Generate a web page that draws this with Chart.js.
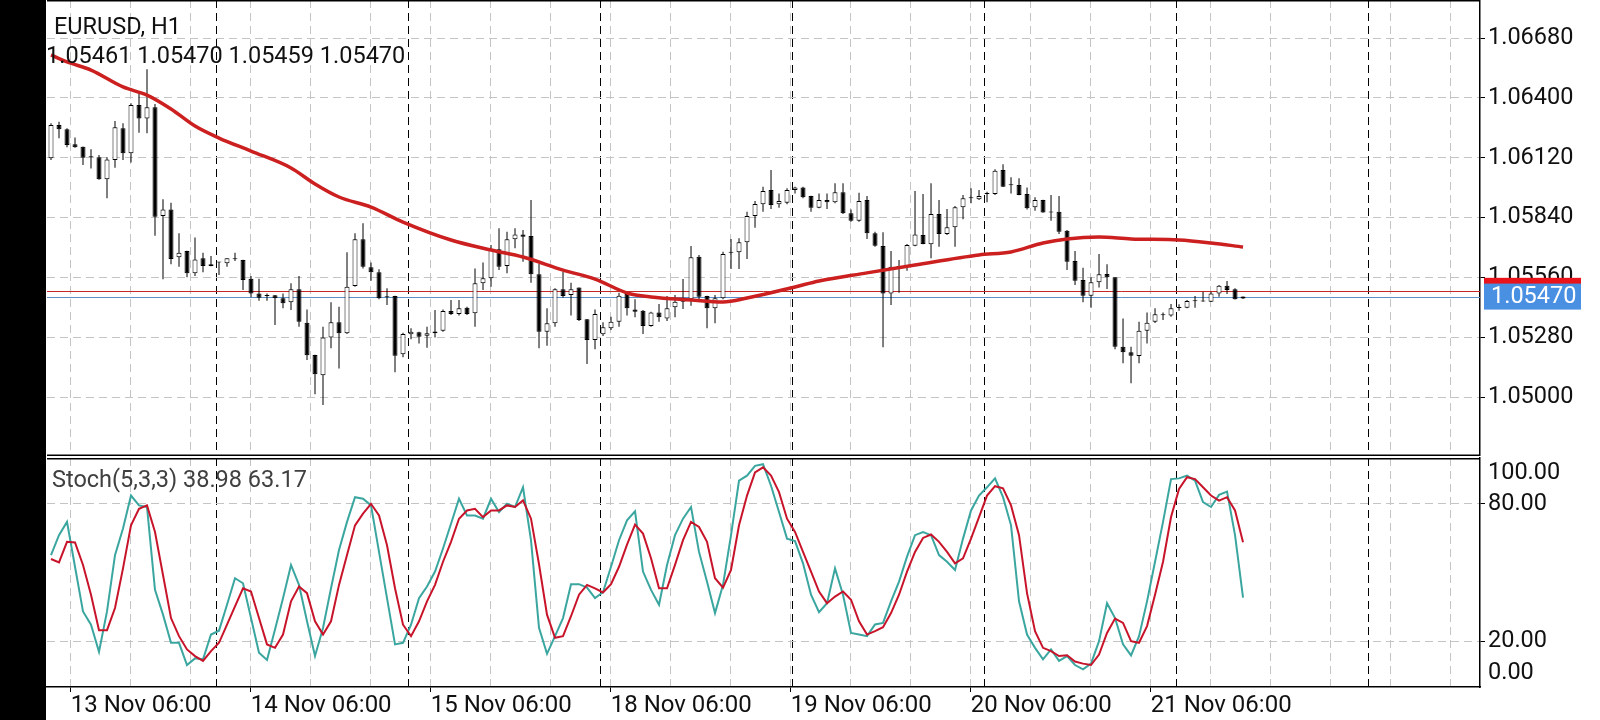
<!DOCTYPE html>
<html>
<head>
<meta charset="utf-8">
<title>EURUSD, H1</title>
<script src="https://cdn.jsdelivr.net/npm/chart.js@4.4.0/dist/chart.umd.min.js"></script>
<style>
  html, body { margin: 0; padding: 0; background: #fff; }
  #wrap { position: relative; width: 1600px; height: 720px; overflow: hidden; background: #fff; }
  #priceCanvas { position: absolute; left: 0; top: 0; }
  #stochCanvas { position: absolute; left: 0; top: 456px; }
  #strip { position: absolute; left: 0; top: 0; width: 46px; height: 720px; background: #000; }
</style>
</head>
<body>
<div id="wrap">
  <canvas id="priceCanvas" width="1600" height="456"></canvas>
  <canvas id="stochCanvas" width="1600" height="264"></canvas>
  <div id="strip"></div>
</div>
<script>
// texts
var symbol = 'EURUSD, H1';
var lastBar = '1.05461 1.05470 1.05459 1.05470';
var stochLabel = 'Stoch(5,3,3) 38.98 63.17';
var timeLabels = ['13 Nov 06:00', '14 Nov 06:00', '15 Nov 06:00', '18 Nov 06:00',
                  '19 Nov 06:00', '20 Nov 06:00', '21 Nov 06:00'];
var priceTicks = [1.05000, 1.05280, 1.05560, 1.05840, 1.06120, 1.06400, 1.06680];
var stochTicks = [0, 20, 80, 100];
var bid = 1.05470;
var ask = 1.05497;

// hourly bars, oldest first
var opens = [
  1.06117, 1.06273, 1.06253, 1.06183, 1.06171, 1.06125, 1.06122, 1.06019, 1.06109, 1.06258,
  1.06141, 1.06367, 1.06304, 1.06356, 1.05847, 1.05878, 1.05654, 1.05683, 1.05579, 1.05649,
  1.05613, 1.05629, 1.05626, 1.05646, 1.05641, 1.05554, 1.05485, 1.05474, 1.05476, 1.05462,
  1.05443, 1.05504, 1.05348, 1.05197, 1.05102, 1.05279, 1.05350, 1.05298, 1.05520, 1.05738,
  1.05607, 1.05584, 1.05468, 1.05473, 1.05200, 1.05294, 1.05303, 1.05287, 1.05298, 1.05310,
  1.05403, 1.05388, 1.05418, 1.05392, 1.05532, 1.05556, 1.05691, 1.05613, 1.05738, 1.05761,
  1.05753, 1.05574, 1.05306, 1.05345, 1.05504, 1.05477, 1.05512, 1.05364, 1.05267, 1.05294,
  1.05322, 1.05352, 1.05482, 1.05410, 1.05404, 1.05332, 1.05396, 1.05368, 1.05420, 1.05446,
  1.05457, 1.05657, 1.05473, 1.05415, 1.05462, 1.05677, 1.05677, 1.05724, 1.05847, 1.05902,
  1.05969, 1.05902, 1.05909, 1.05969, 1.05981, 1.05941, 1.05886, 1.05922, 1.05911, 1.05958,
  1.05860, 1.05825, 1.05922, 1.05766, 1.05707, 1.05485, 1.05607, 1.05610, 1.05708, 1.05758,
  1.05715, 1.05856, 1.05763, 1.05794, 1.05888, 1.05930, 1.05925, 1.05950, 1.05950, 1.06062,
  1.05992, 1.05992, 1.05950, 1.05888, 1.05922, 1.05864, 1.05867, 1.05778, 1.05637, 1.05548,
  1.05474, 1.05537, 1.05576, 1.05560, 1.05235, 1.05209, 1.05192, 1.05310, 1.05352, 1.05384,
  1.05381, 1.05418, 1.05418, 1.05449, 1.05447, 1.05446, 1.05485, 1.05521, 1.05504, 1.05461
];
var highs = [
  1.06281, 1.06288, 1.06258, 1.06215, 1.06172, 1.06159, 1.06133, 1.06122, 1.06292, 1.06281,
  1.06375, 1.06421, 1.06534, 1.06371, 1.05925, 1.05909, 1.05766, 1.05684, 1.05746, 1.05675,
  1.05660, 1.05632, 1.05650, 1.05675, 1.05642, 1.05566, 1.05554, 1.05485, 1.05477, 1.05485,
  1.05532, 1.05566, 1.05410, 1.05198, 1.05329, 1.05443, 1.05423, 1.05677, 1.05766, 1.05813,
  1.05629, 1.05598, 1.05509, 1.05474, 1.05301, 1.05322, 1.05306, 1.05329, 1.05407, 1.05410,
  1.05454, 1.05454, 1.05423, 1.05602, 1.05630, 1.05711, 1.05790, 1.05774, 1.05790, 1.05782,
  1.05922, 1.05622, 1.05415, 1.05509, 1.05586, 1.05535, 1.05513, 1.05365, 1.05410, 1.05350,
  1.05376, 1.05488, 1.05493, 1.05457, 1.05407, 1.05399, 1.05435, 1.05473, 1.05477, 1.05552,
  1.05707, 1.05665, 1.05474, 1.05477, 1.05680, 1.05740, 1.05743, 1.05867, 1.05917, 1.05984,
  1.06062, 1.05953, 1.05977, 1.05984, 1.05984, 1.05942, 1.05953, 1.05953, 1.06000, 1.06000,
  1.05878, 1.05956, 1.05941, 1.05774, 1.05771, 1.05683, 1.05641, 1.05716, 1.05964, 1.05950,
  1.06000, 1.05922, 1.05880, 1.05894, 1.05945, 1.05977, 1.05969, 1.05961, 1.06066, 1.06089,
  1.06028, 1.06024, 1.05981, 1.05935, 1.05923, 1.05945, 1.05941, 1.05782, 1.05683, 1.05605,
  1.05560, 1.05669, 1.05621, 1.05561, 1.05368, 1.05235, 1.05352, 1.05395, 1.05415, 1.05395,
  1.05435, 1.05434, 1.05454, 1.05473, 1.05493, 1.05493, 1.05524, 1.05543, 1.05509, 1.05470
];
var lows = [
  1.06109, 1.06211, 1.06169, 1.06167, 1.06086, 1.06070, 1.06017, 1.05930, 1.06073, 1.06109,
  1.06098, 1.06237, 1.06234, 1.05755, 1.05551, 1.05621, 1.05610, 1.05560, 1.05566, 1.05584,
  1.05612, 1.05571, 1.05610, 1.05637, 1.05501, 1.05467, 1.05451, 1.05451, 1.05337, 1.05415,
  1.05407, 1.05329, 1.05173, 1.05013, 1.04963, 1.05228, 1.05134, 1.05295, 1.05516, 1.05602,
  1.05544, 1.05457, 1.05431, 1.05116, 1.05186, 1.05270, 1.05251, 1.05231, 1.05279, 1.05306,
  1.05384, 1.05382, 1.05384, 1.05329, 1.05501, 1.05516, 1.05594, 1.05579, 1.05696, 1.05633,
  1.05535, 1.05228, 1.05240, 1.05329, 1.05465, 1.05381, 1.05356, 1.05155, 1.05223, 1.05286,
  1.05314, 1.05329, 1.05381, 1.05373, 1.05295, 1.05329, 1.05352, 1.05356, 1.05373, 1.05412,
  1.05427, 1.05451, 1.05322, 1.05345, 1.05457, 1.05599, 1.05599, 1.05646, 1.05792, 1.05867,
  1.05880, 1.05886, 1.05902, 1.05953, 1.05930, 1.05867, 1.05883, 1.05880, 1.05907, 1.05856,
  1.05820, 1.05820, 1.05740, 1.05703, 1.05233, 1.05431, 1.05488, 1.05591, 1.05706, 1.05715,
  1.05649, 1.05703, 1.05758, 1.05703, 1.05832, 1.05907, 1.05922, 1.05911, 1.05945, 1.05983,
  1.05953, 1.05944, 1.05878, 1.05872, 1.05862, 1.05825, 1.05763, 1.05594, 1.05524, 1.05443,
  1.05418, 1.05513, 1.05506, 1.05223, 1.05158, 1.05064, 1.05158, 1.05251, 1.05347, 1.05360,
  1.05376, 1.05404, 1.05415, 1.05418, 1.05446, 1.05445, 1.05469, 1.05482, 1.05456, 1.05459
];
var closes = [
  1.06273, 1.06253, 1.06179, 1.06169, 1.06120, 1.06122, 1.06019, 1.06112, 1.06262, 1.06141,
  1.06367, 1.06304, 1.06356, 1.05844, 1.05878, 1.05646, 1.05675, 1.05579, 1.05644, 1.05613,
  1.05621, 1.05630, 1.05649, 1.05645, 1.05548, 1.05485, 1.05465, 1.05473, 1.05462, 1.05439,
  1.05504, 1.05352, 1.05195, 1.05106, 1.05279, 1.05350, 1.05298, 1.05516, 1.05738, 1.05610,
  1.05584, 1.05462, 1.05467, 1.05193, 1.05295, 1.05306, 1.05282, 1.05298, 1.05307, 1.05403,
  1.05388, 1.05415, 1.05388, 1.05532, 1.05556, 1.05691, 1.05610, 1.05738, 1.05761, 1.05750,
  1.05574, 1.05306, 1.05345, 1.05504, 1.05473, 1.05504, 1.05360, 1.05267, 1.05388, 1.05326,
  1.05352, 1.05474, 1.05415, 1.05399, 1.05332, 1.05395, 1.05373, 1.05415, 1.05446, 1.05462,
  1.05654, 1.05469, 1.05415, 1.05462, 1.05669, 1.05675, 1.05724, 1.05847, 1.05903, 1.05964,
  1.05899, 1.05917, 1.05969, 1.05981, 1.05935, 1.05886, 1.05922, 1.05911, 1.05958, 1.05860,
  1.05825, 1.05917, 1.05766, 1.05708, 1.05485, 1.05610, 1.05613, 1.05711, 1.05761, 1.05716,
  1.05856, 1.05763, 1.05794, 1.05888, 1.05930, 1.05931, 1.05941, 1.05951, 1.06059, 1.05984,
  1.05991, 1.05945, 1.05883, 1.05922, 1.05863, 1.05863, 1.05774, 1.05633, 1.05544, 1.05474,
  1.05537, 1.05574, 1.05560, 1.05235, 1.05209, 1.05193, 1.05310, 1.05348, 1.05387, 1.05383,
  1.05415, 1.05417, 1.05449, 1.05448, 1.05449, 1.05485, 1.05521, 1.05501, 1.05457, 1.05470
];

// moving average, read at a few bars
var maBars = [0, 2, 5, 9, 12, 15, 18, 21, 25, 30, 33, 36, 40, 44, 50, 55, 59, 64, 68, 72,
              75, 80, 84, 87, 93, 96, 102, 108, 116, 120, 124, 127, 131, 135, 141, 145, 149];
var maValues = [1.06601, 1.06568, 1.06530, 1.06451, 1.06413, 1.06348, 1.06268, 1.06212, 1.06151, 1.06072,
                1.05997, 1.05936, 1.05889, 1.05819, 1.05735, 1.05688, 1.05655, 1.05594, 1.05552, 1.05487,
                1.05468, 1.05454, 1.05445, 1.05463, 1.05515, 1.05543, 1.05581, 1.05618, 1.05665, 1.05679,
                1.05721, 1.05740, 1.05749, 1.05740, 1.05735, 1.05721, 1.05702];

// stochastic %K and %D
var stochK = [
  57.6, 66.3, 72.1, 52.5, 33.0, 27.2, 15.4, 33.0, 57.6, 69.2,
  83.6, 79.3, 78.6, 42.4, 31.6, 19.3, 19.3, 9.6, 12.5, 12.1,
  22.9, 24.6, 35.9, 47.5, 45.3, 30.1, 15.0, 11.8, 25.1, 38.8,
  53.3, 44.6, 28.7, 13.5, 25.8, 43.1, 59.8, 72.1, 82.9, 82.2,
  79.3, 59.0, 38.8, 18.6, 19.3, 27.2, 38.8, 43.9, 50.4, 60.5,
  71.3, 82.2, 74.9, 74.9, 73.5, 82.2, 76.4, 80.0, 78.6, 87.2,
  64.0, 25.8, 14.5, 22.2, 30.1, 44.9, 44.9, 43.4, 38.8, 41.4,
  52.5, 64.1, 72.8, 76.7, 50.4, 42.4, 35.9, 53.3, 66.3, 73.5,
  78.6, 59.0, 46.0, 32.3, 44.6, 66.3, 90.1, 92.3, 96.6, 97.3,
  87.9, 76.4, 64.8, 63.7, 54.0, 40.3, 32.7, 36.6, 51.8, 40.3,
  23.6, 22.9, 22.2, 27.3, 28.0, 37.4, 46.0, 56.9, 66.3, 67.7,
  66.3, 57.6, 54.7, 51.1, 64.8, 77.1, 83.6, 87.2, 91.1, 82.9,
  70.6, 37.4, 22.9, 17.1, 12.1, 16.4, 11.4, 13.5, 9.6, 7.7,
  10.2, 20.0, 36.6, 30.1, 18.6, 13.8, 22.2, 37.4, 54.7, 72.1,
  90.8, 91.1, 92.3, 90.1, 80.7, 78.6, 83.9, 85.3, 66.3, 38.98
];
var stochD = [
  55.9, 54.4, 63.4, 63.1, 53.3, 40.3, 24.8, 24.8, 34.5, 51.8,
  70.6, 77.8, 79.3, 67.7, 48.9, 30.1, 22.2, 16.4, 13.5, 11.4,
  15.7, 19.3, 27.2, 35.2, 43.1, 41.7, 30.1, 18.6, 17.1, 22.9,
  37.4, 43.9, 41.0, 28.7, 22.9, 28.7, 44.6, 57.6, 70.6, 75.7,
  80.0, 74.9, 61.9, 43.1, 27.2, 22.2, 28.7, 37.4, 44.6, 54.7,
  63.4, 73.5, 77.1, 77.8, 74.2, 77.1, 77.1, 79.3, 78.6, 81.5,
  73.5, 53.6, 31.6, 21.5, 22.2, 30.9, 40.3, 44.6, 43.1, 41.3,
  44.9, 52.5, 62.2, 70.9, 67.0, 56.2, 43.1, 43.1, 53.3, 64.1,
  72.1, 69.9, 63.4, 47.5, 43.4, 51.1, 70.6, 83.6, 93.7, 95.9,
  92.3, 85.1, 73.5, 67.7, 59.0, 50.4, 41.7, 36.6, 39.5, 41.7,
  38.1, 28.7, 22.9, 24.4, 26.1, 32.3, 40.3, 50.4, 59.0, 65.1,
  66.6, 63.4, 59.0, 54.0, 56.2, 64.8, 74.2, 83.6, 87.7, 86.8,
  79.3, 66.3, 41.0, 24.4, 17.1, 15.7, 13.5, 13.9, 11.1, 10.2,
  9.6, 14.2, 23.6, 29.9, 28.0, 20.0, 19.3, 26.6, 40.3, 54.7,
  74.2, 86.5, 91.6, 90.8, 87.2, 83.6, 81.4, 82.9, 77.1, 63.17
];

// ---- layout ----
var X_MIN = -0.5, X_MAX = 178.62;          // bar index at left / right edge of plot
var PRICE_MIN = 1.04724, PRICE_MAX = 1.06858;
var GRID_START = 2.4625, GRID_STEP = 7.5, GRID_COUNT = 24;  // grey verticals every 60px
var SEP_START = 20.66, SEP_STEP = 24, SEP_COUNT = 7;        // day separators
var GREY = '#c4c4c4';
var DASH = [8, 5];
var AXIS_FONT = 23.5;
var TEXT_FONT = '23.5px Roboto';

Chart.defaults.font.family = 'Roboto';
Chart.defaults.color = '#111';

function buildXTicks() {
  var list = [];
  for (var i = 0; i < GRID_COUNT; i++) {
    var li = i % 3 === 0 ? i / 3 : -1;
    list.push({ value: GRID_START + GRID_STEP * i, kind: 'grid',
                label: (li >= 0 && li < timeLabels.length) ? timeLabels[li] : '' });
  }
  for (var j = 0; j < SEP_COUNT; j++) {
    list.push({ value: SEP_START + SEP_STEP * j, kind: 'sep', label: '' });
  }
  list.sort(function(a, b) { return a.value - b.value; });
  return list;
}
var xTicks = buildXTicks();

function xGridColor(ctx) {
  var t = xTicks[ctx.index];
  return t && t.kind === 'sep' ? '#000' : GREY;
}

function xScale(showLabels) {
  return {
    type: 'linear', min: X_MIN, max: X_MAX, offset: false, bounds: 'data',
    afterBuildTicks: function(s) { s.ticks = xTicks.map(function(t) { return { value: t.value }; }); },
    afterFit: function(s) { s.height = showLabels ? 33 : 0; s.paddingLeft = 0; s.paddingRight = 0; },
    ticks: {
      display: showLabels, autoSkip: false, maxRotation: 0, minRotation: 0, align: 'start',
      padding: 0, font: { size: 24 }, color: '#111',
      callback: function(v, i) { return xTicks[i] ? xTicks[i].label : ''; }
    },
    grid: {
      offset: false, color: xGridColor, lineWidth: 1, drawTicks: showLabels, tickLength: 5,
      tickBorderDash: [],
      tickColor: function(ctx) { var t = xTicks[ctx.index]; return t && t.label ? '#000' : 'rgba(0,0,0,0)'; }
    },
    border: { display: showLabels, color: '#000', width: 1.5, dash: DASH }
  };
}

// ---- price chart ----
var barIdx = opens.map(function(o, i) { return i; });
var bodyColors = opens.map(function(o, i) {
  if (Math.abs(closes[i] - o) < 0.00004) return '#000';
  return closes[i] > o ? '#fff' : '#000';
});

var priceOverlay = {
  id: 'priceOverlay',
  beforeDatasetsDraw: function(chart) {
    var ctx = chart.ctx, a = chart.chartArea, y = chart.scales.y;
    ctx.save();
    ctx.lineWidth = 1;
    [[ask, '#c62828'], [bid, '#5b8fc9']].forEach(function(p) {
      var py = Math.round(y.getPixelForValue(p[0])) + 0.5;
      ctx.strokeStyle = p[1];
      ctx.beginPath(); ctx.moveTo(a.left, py); ctx.lineTo(a.right, py); ctx.stroke();
    });
    ctx.restore();
  },
  afterDraw: function(chart) {
    var ctx = chart.ctx, a = chart.chartArea, y = chart.scales.y;
    ctx.save();
    ctx.strokeStyle = '#000'; ctx.lineWidth = 1.5;
    ctx.beginPath();
    ctx.moveTo(a.left, a.top + 0.75); ctx.lineTo(a.right, a.top + 0.75);
    ctx.moveTo(a.left, a.bottom - 0.75); ctx.lineTo(a.right, a.bottom - 0.75);
    ctx.stroke();
    // price labels on the axis
    var bx = a.right + 4, bw = 97, bh = 26;
    var ya = y.getPixelForValue(ask), yb = y.getPixelForValue(bid);
    ctx.fillStyle = '#e8131b'; ctx.fillRect(bx, ya - bh / 2, bw, bh);
    ctx.fillStyle = '#4a90e2'; ctx.fillRect(bx, yb - bh / 2, bw, bh);
    ctx.fillStyle = '#fff'; ctx.font = TEXT_FONT;
    ctx.textAlign = 'left'; ctx.textBaseline = 'middle';
    ctx.fillText(bid.toFixed(5), bx + 7, yb + 1);
    // header
    ctx.fillStyle = '#111'; ctx.font = TEXT_FONT; ctx.textBaseline = 'alphabetic';
    ctx.fillText(symbol, 54, 34);
    ctx.fillText(lastBar, 46, 63);
    ctx.restore();
  }
};

new Chart(document.getElementById('priceCanvas').getContext('2d'), {
  type: 'bar',
  data: {
    datasets: [
      {
        type: 'line', label: 'MA',
        data: maBars.map(function(b, i) { return { x: b, y: maValues[i] }; }),
        borderColor: '#cc1f1f', borderWidth: 3.5, pointRadius: 0,
        cubicInterpolationMode: 'monotone', order: 0
      },
      {
        label: 'body',
        data: barIdx.map(function(i) { return { x: i, y: [opens[i], closes[i]] }; }),
        backgroundColor: bodyColors, borderColor: '#000', borderWidth: 1,
        borderSkipped: false, barThickness: 5, grouped: false, minBarLength: 1,
        inflateAmount: 0, order: 1
      },
      {
        label: 'wick',
        data: barIdx.map(function(i) { return { x: i, y: [lows[i], highs[i]] }; }),
        backgroundColor: '#000', borderWidth: 0, barThickness: 1, grouped: false,
        inflateAmount: 0, order: 2
      }
    ]
  },
  options: {
    responsive: false, animation: false, devicePixelRatio: 1,
    layout: { padding: { left: 47, right: 0, top: 0, bottom: 0 } },
    plugins: { legend: { display: false }, tooltip: { enabled: false } },
    scales: {
      x: xScale(false),
      y: {
        type: 'linear', position: 'right', min: PRICE_MIN, max: PRICE_MAX, bounds: 'data',
        afterBuildTicks: function(s) { s.ticks = priceTicks.map(function(v) { return { value: v }; }); },
        afterFit: function(s) { s.width = 120; s.paddingTop = 0; s.paddingBottom = 0; },
        ticks: { callback: function(v) { return Number(v).toFixed(5); }, font: { size: AXIS_FONT }, color: '#111', padding: 3 },
        grid: { color: GREY, lineWidth: 1, tickColor: '#000', tickLength: 5, tickBorderDash: [] },
        border: { display: true, color: '#000', width: 1.5, dash: DASH }
      }
    }
  },
  plugins: [priceOverlay]
});

// ---- stochastic chart ----
var stochOverlay = {
  id: 'stochOverlay',
  afterDraw: function(chart) {
    var ctx = chart.ctx, a = chart.chartArea, y = chart.scales.y;
    ctx.save();
    ctx.strokeStyle = '#000'; ctx.lineWidth = 1.5;
    ctx.beginPath(); ctx.moveTo(a.left, a.top + 0.75); ctx.lineTo(a.right, a.top + 0.75); ctx.stroke();
    ctx.fillStyle = '#111'; ctx.font = TEXT_FONT;
    ctx.textAlign = 'left'; ctx.textBaseline = 'middle';
    ctx.fillText(stochTicks[3].toFixed(2), a.right + 8, y.getPixelForValue(stochTicks[3]) + 15);
    ctx.fillText(stochTicks[0].toFixed(2), a.right + 8, y.getPixelForValue(stochTicks[0]) - 14);
    ctx.fillStyle = '#404040'; ctx.font = TEXT_FONT; ctx.textBaseline = 'alphabetic';
    ctx.fillText(stochLabel, 52, a.top + 29);
    ctx.restore();
  }
};

function isLevel(v) { return v === 20 || v === 80; }

new Chart(document.getElementById('stochCanvas').getContext('2d'), {
  type: 'line',
  data: {
    datasets: [
      {
        label: 'Signal',
        data: barIdx.map(function(i) { return { x: i, y: stochD[i] }; }),
        borderColor: '#c8142a', borderWidth: 2, pointRadius: 0, tension: 0, order: 0
      },
      {
        label: 'Main',
        data: barIdx.map(function(i) { return { x: i, y: stochK[i] }; }),
        borderColor: '#3aa69f', borderWidth: 2, pointRadius: 0, tension: 0, order: 1
      }
    ]
  },
  options: {
    responsive: false, animation: false, devicePixelRatio: 1,
    layout: { padding: { left: 47, right: 0, top: 2, bottom: 0 } },
    plugins: { legend: { display: false }, tooltip: { enabled: false } },
    scales: {
      x: xScale(true),
      y: {
        type: 'linear', position: 'right', min: 0, max: 100, bounds: 'data',
        afterBuildTicks: function(s) { s.ticks = stochTicks.map(function(v) { return { value: v }; }); },
        afterFit: function(s) { s.width = 120; s.paddingTop = 0; s.paddingBottom = 0; },
        ticks: {
          callback: function(v) { return isLevel(v) ? Number(v).toFixed(2) : ''; },
          font: { size: AXIS_FONT }, color: '#111', padding: 3
        },
        grid: {
          color: function(ctx) { return ctx.tick && isLevel(ctx.tick.value) ? GREY : 'rgba(0,0,0,0)'; },
          tickColor: function(ctx) { return ctx.tick && isLevel(ctx.tick.value) ? '#000' : 'rgba(0,0,0,0)'; },
          lineWidth: 1, tickLength: 5, tickBorderDash: []
        },
        border: { display: true, color: '#000', width: 1.5, dash: DASH }
      }
    }
  },
  plugins: [stochOverlay]
});
</script>
</body>
</html>
